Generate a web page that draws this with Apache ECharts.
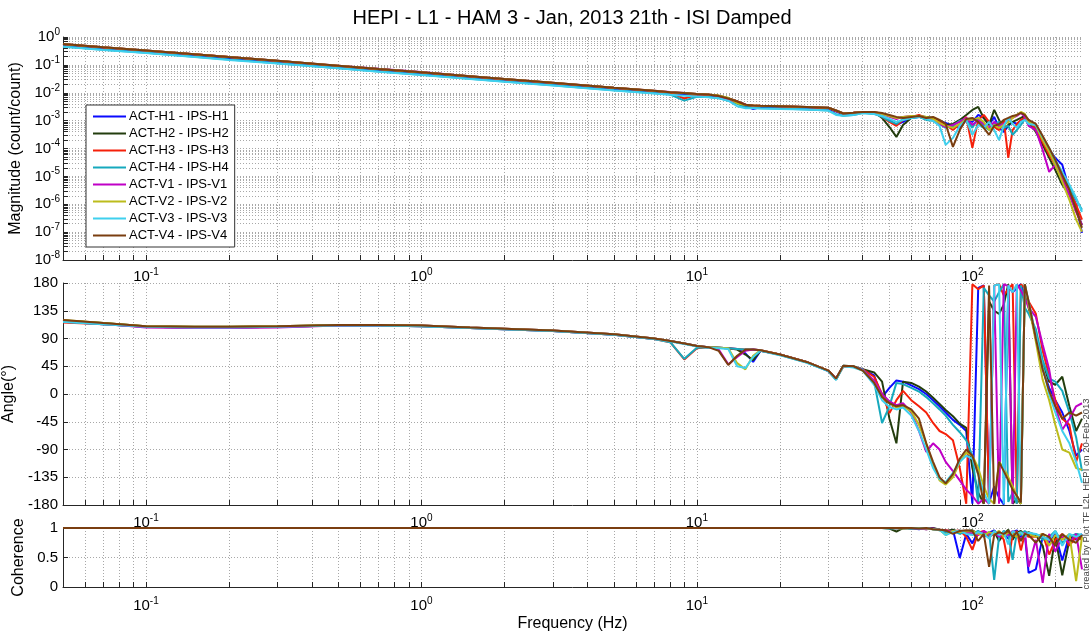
<!DOCTYPE html>
<html><head><meta charset="utf-8">
<script src="https://cdn.jsdelivr.net/npm/echarts@6/dist/echarts.min.js"></script>
<style>html,body{margin:0;padding:0;background:#fff}#c{width:1091px;height:635px}</style>
</head><body><div id="c"></div>
<script>
// ---------------- data ----------------
const freq = [
 0.05,0.07,0.1,0.15,0.2,0.3,0.5,0.7,1,1.5,2,3,5,7,
 8,9,10,11,12,13,14,15,16,17,20,25,30,32,34,37,
 40,44,47,50,53,56,60,64,68,72,76,80,85,90,95,
 100,105,110,115,120,125,130,135,140,145,150,155,160,
 170,180,190,200,212,225,238,250];

const seriesNames = ['ACT-H1 - IPS-H1','ACT-H2 - IPS-H2','ACT-H3 - IPS-H3','ACT-H4 - IPS-H4',
                     'ACT-V1 - IPS-V1','ACT-V2 - IPS-V2','ACT-V3 - IPS-V3','ACT-V4 - IPS-V4'];
const seriesColors = ['#0a0aff','#233d0e','#f5200a','#16a9bd','#c000c6','#bcbc1c','#3fd0ee','#7a3e10'];

// magnitude (count/count)
const magH1 = [
 0.50,0.39,0.30,0.22,0.17,0.126,0.084,0.064,0.049,0.035,0.028,0.0205,0.0136,0.0105,
 0.0095,0.0087,0.0075,0.0077,0.0071,0.0058,0.0045,0.0034,0.0026,0.0030,0.0030,0.0028,0.0026,0.0021,0.0017,0.0018,
 2.05e-3,1.89e-3,1.47e-3,1.06e-3,7.0e-4,9.0e-4,1.25e-3,1.36e-3,1.15e-3,1.25e-3,9.8e-4,8.3e-4,6.5e-4,5.5e-4,1.06e-3,
 9.0e-4,1.6e-3,1.25e-3,7.0e-4,1.36e-3,5.5e-4,3.9e-4,6.5e-4,9.0e-4,7.6e-4,9.8e-4,1.25e-3,8.3e-4,
 5.5e-4,2.4e-4,8.9e-5,4.6e-5,2.6e-5,3.3e-6,9.5e-7,9.4e-8];
const magH2 = [
 0.55,0.43,0.33,0.24,0.19,0.14,0.092,0.071,0.054,0.039,0.031,0.0226,0.015,0.0116,
 0.0104,0.0096,0.009,0.0085,0.0078,0.0064,0.005,0.0038,0.0028,0.0033,0.0033,0.0031,0.0029,0.0023,0.0018,0.0019,
 2.05e-3,2.05e-3,1.25e-3,5.9e-4,2.6e-4,7.0e-4,1.25e-3,1.47e-3,1.36e-3,1.25e-3,9.0e-4,7.0e-4,7.6e-4,1.06e-3,1.6e-3,
 2.42e-3,3.1e-3,1.25e-3,7.0e-4,2.42e-3,1.06e-3,4.6e-4,7.0e-4,9.0e-4,1.06e-3,1.25e-3,1.47e-3,9.0e-4,
 3.9e-4,1.35e-4,4.6e-5,1.7e-5,5.0e-6,2.2e-6,6.3e-7,1.8e-7];
const magH3 = [
 0.55,0.42,0.32,0.24,0.19,0.138,0.092,0.07,0.053,0.038,0.030,0.0224,0.0149,0.0115,
 0.0100,0.0062,0.0085,0.0084,0.0078,0.0063,0.0049,0.0037,0.0035,0.0034,0.0033,0.0030,0.0028,0.0022,0.0018,0.0019,
 2.05e-3,1.89e-3,1.36e-3,9.0e-4,6.5e-4,1.06e-3,1.36e-3,1.6e-3,1.25e-3,1.15e-3,9.0e-4,7.0e-4,4.6e-4,7.6e-4,1.36e-3,
 1.05e-4,1.06e-3,1.6e-3,9.0e-4,5.9e-4,4.6e-4,1.06e-3,4.6e-5,4.6e-4,7.6e-4,1.06e-3,1.25e-3,1.06e-3,
 4.6e-4,1.7e-4,5.9e-5,2.6e-5,8.8e-6,3.3e-6,9.5e-7,2.8e-7];
const magH4 = [
 0.46,0.35,0.27,0.195,0.155,0.114,0.076,0.058,0.044,0.032,0.0255,0.0186,0.0124,0.0096,
 0.0086,0.0052,0.0072,0.007,0.0064,0.0052,0.004,0.003,0.0029,0.0028,0.0027,0.0025,0.0023,0.0017,0.0015,0.0016,
 1.89e-3,1.74e-3,1.36e-3,9.8e-4,7.6e-4,1.15e-3,1.25e-3,1.36e-3,1.06e-3,9.8e-4,7.6e-4,5.5e-4,6.5e-4,9.8e-4,1.15e-3,
 5.5e-4,1.25e-3,6.5e-4,4.6e-4,7.6e-4,9.0e-4,5.5e-4,6.5e-4,3.1e-4,4.6e-4,7.0e-4,1.15e-3,9.0e-4,
 6.5e-4,2.4e-4,8.9e-5,3.3e-5,1.13e-5,3.9e-6,1.44e-6,6.3e-7];
const magV1 = [
 0.56,0.43,0.33,0.24,0.19,0.14,0.094,0.072,0.055,0.039,0.031,0.0228,0.0152,0.0118,
 0.0106,0.0097,0.0091,0.0086,0.0077,0.0055,0.0046,0.0037,0.0035,0.0034,0.0033,0.0031,0.0029,0.0023,0.0018,0.0019,
 2.05e-3,2.05e-3,1.74e-3,1.36e-3,1.15e-3,1.36e-3,1.47e-3,1.47e-3,1.25e-3,1.06e-3,7.6e-4,5.9e-4,7.0e-4,9.0e-4,1.25e-3,
 7.0e-4,1.06e-3,7.6e-4,5.5e-4,9.0e-4,6.5e-4,7.6e-4,1.06e-3,1.25e-3,1.47e-3,1.89e-3,1.36e-3,6.5e-4,
 4.6e-4,8.9e-5,1.45e-5,2.6e-5,7.5e-6,2.2e-6,5.3e-7,1.8e-7];
const magV2 = [
 0.56,0.43,0.33,0.24,0.19,0.14,0.093,0.071,0.054,0.039,0.031,0.0227,0.0151,0.0117,
 0.0105,0.0097,0.0091,0.0086,0.0079,0.0066,0.0042,0.0036,0.0035,0.0034,0.0033,0.0031,0.0029,0.0023,0.0018,0.0019,
 2.05e-3,2.05e-3,1.74e-3,1.47e-3,1.25e-3,1.36e-3,1.47e-3,1.47e-3,1.36e-3,1.15e-3,8.3e-4,6.5e-4,5.5e-4,7.6e-4,1.15e-3,
 1.06e-3,1.25e-3,9.0e-4,4.6e-4,7.0e-4,5.5e-4,7.0e-4,9.0e-4,1.25e-3,1.6e-3,2.05e-3,1.74e-3,9.0e-4,
 6.5e-4,2.0e-4,7.6e-5,2.6e-5,6.4e-6,1.44e-6,2.8e-7,1.03e-7];
const magV3 = [
 0.45,0.345,0.265,0.19,0.15,0.112,0.075,0.057,0.043,0.031,0.025,0.0182,0.0121,0.0094,
 0.0084,0.0078,0.0073,0.0069,0.0063,0.0052,0.0033,0.0028,0.0028,0.0027,0.0026,0.0025,0.0023,0.0016,0.0015,0.0016,
 1.89e-3,1.74e-3,1.47e-3,1.15e-3,9.0e-4,1.06e-3,1.25e-3,1.36e-3,1.15e-3,9.8e-4,6.5e-4,1.35e-4,2.4e-4,6.5e-4,1.06e-3,
 3.1e-4,7.0e-4,5.5e-4,9.0e-4,4.6e-4,2.0e-4,6.5e-4,1.25e-3,7.6e-4,5.5e-4,9.0e-4,1.06e-3,7.6e-4,
 7.0e-4,2.6e-4,1.05e-4,3.9e-5,1.45e-5,5.0e-6,1.7e-6,5.3e-7];
const magV4 = [
 0.56,0.43,0.33,0.24,0.19,0.14,0.093,0.071,0.054,0.039,0.031,0.0227,0.0151,0.0117,
 0.0105,0.0097,0.0091,0.0086,0.0077,0.0062,0.0048,0.0037,0.0035,0.0034,0.0033,0.0031,0.0029,0.0023,0.0018,0.0019,
 2.05e-3,2.05e-3,1.89e-3,1.6e-3,1.36e-3,1.25e-3,1.36e-3,1.47e-3,1.25e-3,1.36e-3,1.06e-3,7.6e-4,1.14e-4,4.6e-4,1.15e-3,
 1.25e-3,9.0e-4,5.5e-4,3.1e-4,6.5e-4,7.6e-4,1.06e-3,1.25e-3,1.47e-3,1.6e-3,1.89e-3,1.6e-3,1.06e-3,
 7.6e-4,2.8e-4,1.05e-4,3.9e-5,1.13e-5,3.3e-6,6.3e-7,1.43e-7];

// phase (degrees)
const phH1 = [
 117,113,109,108,108,109,111,111,110,107,105,102,96,89,
 86,82,78,76,75,74,73,66,52,70,64,52,37,24,45,44,
 40,30,-5,10,22,20,14,8,0,-10,-20,-30,-42,-50,-60,
 -178,172,176,-176,-150,-168,-179,175,165,172,178,160,148,
 90,40,10,-10,-30,-60,-100,-90];
const phH2 = [
 119,115,110,109,109,110,112,112,111,108,106,103,97,90,
 86,82,78,76,75,74,72,64,55,70,64,52,38,25,46,45,
 40,35,20,-40,-80,20,18,12,4,-6,-16,-26,-36,-48,-55,
 -120,-160,-178,150,135,130,145,178,-178,-170,-178,178,140,
 95,50,20,15,28,-20,-60,-40];
const phH3 = [
 116,113,109,108,108,109,111,111,110,107,105,102,96,89,
 84,56,74,76,75,74,73,72,72,71,64,52,38,24,45,44,
 40,28,0,-31,-10,5,-10,-20,-30,-47,-60,-65,-75,-120,-178,
 178,170,176,-178,176,178,160,170,178,-178,178,172,150,
 130,70,30,-10,-40,-50,-110,-80];
const phH4 = [
 117,113,109,108,108,109,111,111,110,107,105,102,96,89,
 84,57,75,76,75,74,73,72,72,71,63,51,37,23,46,44,
 40,20,-47,-20,18,16,10,4,-5,-15,-25,-35,-50,-62,-75,
 -100,-178,172,160,150,165,178,-175,-160,-178,176,140,130,
 105,55,25,20,5,-30,-70,-125];
const phV1 = [
 119,114,108,107,107,108,111,112,111,108,106,103,97,90,
 86,82,78,76,72,48,60,70,72,71,64,52,38,25,45,44,
 39,22,0,-12,-18,-15,-30,-60,-94,-80,-90,-110,-125,-140,-155,
 -165,-178,-170,-178,175,-178,178,175,-178,178,168,155,140,
 125,80,40,-20,-58,-40,-20,-15];
const phV2 = [
 120,115,110,109,109,110,112,112,111,108,106,103,97,90,
 86,82,78,76,75,74,50,40,62,71,64,52,38,24,45,44,
 38,18,-5,-15,-22,-20,-28,-50,-80,-115,-140,-147,-135,-110,-95,
 -100,-120,-150,-170,-178,-110,-120,-135,-150,-165,-178,178,145,
 85,23,-10,-50,-90,-95,-120,-123];
const phV3 = [
 117,113,109,108,108,109,111,111,110,107,105,102,96,89,
 85,81,77,75,74,73,45,42,60,70,63,51,37,23,45,43,
 38,15,-10,-21,-25,-22,-35,-60,-90,-120,-138,-143,-128,-110,-100,
 -105,-130,-160,-178,176,178,-178,176,165,178,-176,178,150,
 95,45,0,-30,-60,-80,-110,-144];
const phV4 = [
 120,115,110,109,109,110,112,112,111,108,106,103,97,90,
 86,82,78,76,70,47,62,72,72,71,64,52,38,25,46,45,
 38,18,-5,-15,-20,-18,-25,-40,-80,-110,-135,-145,-130,-105,-90,
 -100,-130,-178,176,-178,-110,-125,-140,-155,-165,-176,178,150,
 90,40,5,-20,-40,-30,-35,-30];

// coherence
const cohH1 = [
 1,1,1,1,1,1,1,1,1,1,1,1,1,1,
 1,1,1,1,1,1,1,1,1,1,1,1,1,1,1,1,
 1,1,1,1,1,0.99,1,0.98,1,0.99,0.97,0.93,0.97,0.49,0.9,
 0.74,0.95,0.85,0.92,0.96,0.88,0.9,0.82,0.93,0.96,0.85,0.9,0.24,
 0.3,0.85,0.75,0.9,0.45,0.88,0.8,0.9];
const cohH2 = [
 1,1,1,1,1,1,1,1,1,1,1,1,1,1,
 1,1,1,1,1,1,1,1,1,1,1,1,1,1,1,1,
 1,1,1,0.99,0.94,1,0.99,1,0.98,1,0.97,0.95,0.97,0.93,0.95,
 0.96,0.9,0.93,0.85,0.95,0.78,0.9,0.97,0.8,0.92,0.95,0.88,0.93,
 0.88,0.7,0.19,0.85,0.2,0.8,0.9,0.85];
const cohH3 = [
 1,1,1,1,1,1,1,1,1,1,1,1,1,1,
 1,1,1,1,1,1,1,1,1,1,1,1,1,1,1,1,
 1,1,1,1,0.99,1,1,0.99,1,0.98,0.97,0.96,0.94,0.96,0.85,
 0.63,0.92,0.95,0.85,0.9,0.93,0.8,0.4,0.9,0.95,0.62,0.9,0.85,
 0.85,0.9,0.55,0.8,0.9,0.7,0.85,0.8];
const cohH4 = [
 1,1,1,1,1,1,1,1,1,1,1,1,1,1,
 1,1,1,1,1,1,1,1,1,1,1,1,1,1,1,1,
 1,1,1,0.99,1,1,0.99,1,0.99,0.98,0.96,0.92,0.95,0.9,0.94,
 0.9,0.95,0.88,0.93,0.12,0.85,0.95,0.9,0.46,0.92,0.88,0.95,0.9,
 0.9,0.8,0.85,0.95,0.75,0.85,0.9,0.88];
const cohV1 = [
 1,1,1,1,1,1,1,1,1,1,1,1,1,1,
 1,1,1,1,1,1,1,1,1,1,1,1,1,1,1,1,
 1,1,1,1,1,1,1,0.99,0.98,0.99,0.97,0.96,0.93,0.95,0.92,
 0.92,0.88,0.95,0.9,0.93,0.85,0.92,0.88,0.95,0.9,0.8,0.92,0.34,
 0.8,0.07,0.9,0.6,0.85,0.75,0.9,0.3];
const cohV2 = [
 1,1,1,1,1,1,1,1,1,1,1,1,1,1,
 1,1,1,1,1,1,1,1,1,1,1,1,1,1,1,1,
 1,1,1,1,1,0.99,1,1,0.99,0.98,0.97,0.88,0.95,0.93,0.94,
 0.95,0.9,0.87,0.93,0.9,0.95,0.85,0.93,0.9,0.85,0.92,0.88,0.9,
 0.85,0.9,0.7,0.88,0.8,0.9,0.1,0.85];
const cohV3 = [
 1,1,1,1,1,1,1,1,1,1,1,1,1,1,
 1,1,1,1,1,1,1,1,1,1,1,1,1,1,1,1,
 1,1,1,1,0.99,1,1,0.99,1,0.98,0.97,0.88,0.93,0.96,0.9,
 0.88,0.93,0.9,0.82,0.95,0.88,0.93,0.72,0.95,0.9,0.93,0.85,0.92,
 0.9,0.85,0.8,0.95,0.7,0.9,0.85,0.9];
const cohV4 = [
 1,1,1,1,1,1,1,1,1,1,1,1,1,1,
 1,1,1,1,1,1,1,1,1,1,1,1,1,1,1,1,
 1,1,1,1,1,1,1,0.99,1,0.98,0.97,0.96,0.9,0.95,0.96,
 0.95,0.78,0.9,0.34,0.88,0.93,0.9,0.95,0.85,0.93,0.78,0.9,0.88,
 0.75,0.9,0.85,0.7,0.9,0.8,0.75,0.88];

const magSets = [magH1,magH2,magH3,magH4,magV1,magV2,magV3,magV4];
const phaseSets = [phH1,phH2,phH3,phH4,phV1,phV2,phV3,phV4];
const cohSets = [cohH1,cohH2,cohH3,cohH4,cohV1,cohV2,cohV3,cohV4];

// axis ticks
const xMin = 0.05, xMax = 250;
const xDecades = [0.01,0.1,1,10,100];
const xLabelValues = [0.1,1,10,100];
const magDecades = [1e-8,1e-7,1e-6,1e-5,1e-4,1e-3,1e-2,1e-1];
const magLabelValues = [1e-8,1e-7,1e-6,1e-5,1e-4,1e-3,1e-2,1e-1,1];
const logMultipliers = [1,2,3,4,5,6,7,8,9];

// ---------------- chart ----------------
const FONT = 'Arial, "Liberation Sans", Helvetica, sans-serif';
function logTicks(decades, lo, hi, includeEnds) {
  const out = [];
  decades.forEach(d => logMultipliers.forEach(m => {
    const v = +(m * d).toPrecision(4);
    if ((includeEnds ? v >= lo : v > lo) && (includeEnds ? v <= hi : v < hi)) out.push(v);
  }));
  if (includeEnds && out.indexOf(hi) < 0) out.push(hi);
  return out;
}
const xTicks = logTicks(xDecades, xMin, xMax, false);
const magTicks = logTicks(magDecades, 1e-8, 1, true);

const powRich = {
  b: {fontSize: 15, fontFamily: FONT, color: '#000'},
  e: {fontSize: 10, fontFamily: FONT, color: '#000', padding: [0, 0, 10, 0]}
};
function powFmt(v) {
  const e = Math.round(Math.log10(v));
  return '{b|10}{e|' + e + '}';
}
const axisColor = '#262626';
const gridLine = {show: true, lineStyle: {color: '#a8a8a8', type: [1, 2], width: 1}};
const nameStyle = {fontSize: 16, color: '#000', fontFamily: FONT};

function xAxisCfg(gi, margin, extra) {
  return Object.assign({
    type: 'log', logBase: 10, gridIndex: gi, min: xMin, max: xMax,
    axisLine: {show: true, onZero: false, lineStyle: {color: axisColor, width: 1}},
    axisTick: {show: true, inside: true, length: 5, customValues: xTicks, lineStyle: {color: axisColor}},
    axisLabel: {show: true, customValues: xLabelValues, margin: margin, formatter: powFmt, rich: powRich},
    splitLine: gridLine,
    minorTick: {show: false}, minorSplitLine: {show: false}
  }, extra || {});
}

const grids = [
  {left: 63, right: 9, top: 37, height: 223},
  {left: 63, right: 9, top: 283, height: 222},
  {left: 63, right: 9, top: 528, height: 59}
];
grids.forEach(g => { g.containLabel = false; g.outerBoundsMode = 'none'; });

const series = [];
[magSets, phaseSets, cohSets].forEach((sets, panel) => {
  sets.forEach((vals, k) => {
    series.push({
      name: seriesNames[k], type: 'line', xAxisIndex: panel, yAxisIndex: panel,
      data: freq.map((f, i) => [f, vals[i]]),
      symbol: 'none', showSymbol: false, smooth: false,
      lineStyle: {color: seriesColors[k], width: 2},
      itemStyle: {color: seriesColors[k]},
      emphasis: {disabled: true}, silent: true
    });
  });
});

const option = {
  animation: false,
  backgroundColor: '#fff',
  textStyle: {fontFamily: FONT},
  grid: grids,
  xAxis: [
    xAxisCfg(0, 7),
    xAxisCfg(1, 8),
    xAxisCfg(2, 9, {name: 'Frequency (Hz)', nameLocation: 'middle', nameGap: 29, nameTextStyle: nameStyle})
  ],
  yAxis: [
    {type: 'log', logBase: 10, gridIndex: 0, min: 1e-8, max: 1,
     name: 'Magnitude (count/count)', nameLocation: 'middle', nameGap: 35, nameTextStyle: nameStyle,
     axisLine: {show: true, lineStyle: {color: axisColor}},
     axisTick: {show: true, inside: true, length: 5, customValues: magTicks, lineStyle: {color: axisColor}},
     axisLabel: {show: true, customValues: magLabelValues, margin: 3, formatter: powFmt, rich: powRich},
     splitLine: gridLine, minorTick: {show: false}, minorSplitLine: {show: false}},
    {type: 'value', gridIndex: 1, min: -180, max: 180, interval: 45,
     name: 'Angle(°)', nameLocation: 'middle', nameGap: 40, nameTextStyle: nameStyle,
     axisLine: {show: true, lineStyle: {color: axisColor}},
     axisTick: {show: true, inside: true, length: 5, lineStyle: {color: axisColor}},
     axisLabel: {fontSize: 15, color: '#000', margin: 5, fontFamily: FONT},
     splitLine: gridLine},
    {type: 'value', gridIndex: 2, min: 0, max: 1, interval: 0.5,
     name: 'Coherence', nameLocation: 'middle', nameGap: 31, nameTextStyle: nameStyle,
     axisLine: {show: true, lineStyle: {color: axisColor}},
     axisTick: {show: true, inside: true, length: 5, lineStyle: {color: axisColor}},
     axisLabel: {fontSize: 15, color: '#000', margin: 5, fontFamily: FONT},
     splitLine: gridLine}
  ],
  legend: {
    data: seriesNames, orient: 'vertical', left: 86, top: 105,
    padding: [5, 6, 5, 6], itemGap: 4, itemWidth: 33, itemHeight: 14,
    backgroundColor: '#fff', borderColor: '#333', borderWidth: 1, borderRadius: 0,
    itemStyle: {opacity: 0},
    lineStyle: {width: 2},
    textStyle: {fontSize: 13, color: '#000', fontFamily: FONT, padding: [0, 0, 0, -2]},
    selectedMode: false
  },
  graphic: [
    {type: 'text', x: 572, y: 18, z: 100,
     style: {text: 'HEPI - L1 - HAM 3 - Jan, 2013 21th - ISI Damped', fontSize: 20, fontFamily: FONT,
             fill: '#000', align: 'center', verticalAlign: 'middle', textAlign: 'center', textVerticalAlign: 'middle'}},
    {type: 'text', x: 1086, y: 494, rotation: Math.PI / 2, z: 100,
     style: {text: 'created by Plot TF L2L HEPI on 20-Feb-2013', fontSize: 9.5, fontFamily: FONT,
             fill: '#444', align: 'center', verticalAlign: 'middle', textAlign: 'center', textVerticalAlign: 'middle'}}
  ],
  series: series
};
const chart = echarts.init(document.getElementById('c'), null, {renderer: 'canvas'});
chart.setOption(option);
</script>
</body></html>
